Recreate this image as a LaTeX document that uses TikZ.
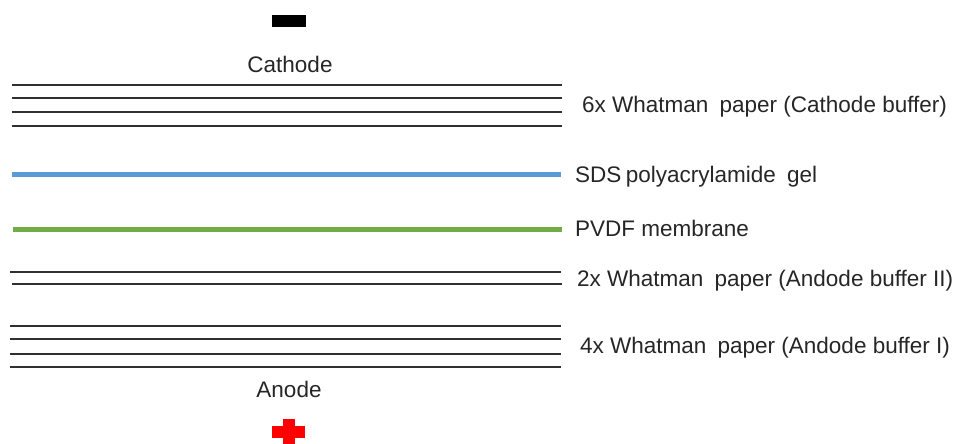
\documentclass[tikz,border=0pt]{standalone}
\usepackage{fontspec}
\setmainfont{Liberation Sans}
\definecolor{gelblue}{HTML}{5B9BD5}
\definecolor{pvdfgreen}{HTML}{70AD47}
\definecolor{txtgray}{HTML}{262626}
\definecolor{linegray}{HTML}{303030}
\newcommand{\wgap}{\hspace{0.22em}}
\begin{document}
\begin{tikzpicture}[x=1pt,y=-1pt,
  lbl/.style={inner sep=0pt, font=\fontsize{22.5}{27}\selectfont, text=txtgray},
  sheet/.style={line width=1.7pt, draw=linegray},
  gel/.style={line width=4.5pt, draw=gelblue},
  membrane/.style={line width=4.5pt, draw=pvdfgreen}]
\useasboundingbox (0,0) rectangle (956,444);
% electrodes
\fill[black] (272,15) rectangle (306,27);
\fill[red] (272,426) rectangle (305,438);
\fill[red] (283,419) rectangle (295,444);
\node[lbl, anchor=base] (cathode) at (290,73) {Cathode};
\node[lbl, anchor=base] (anode) at (289,397) {Anode};
% cathode whatman paper
\foreach \y in {85,98,112.3,125.7} \draw[sheet] (12,\y) -- (562,\y);
% gel and membrane
\draw[gel] (12,174.5) -- (561,174.5);
\draw[membrane] (13,229.5) -- (562,229.5);
% anode buffer II
\draw[sheet] (10,272.3) -- (561,272.3);
\draw[sheet] (12,283.7) -- (562,283.7);
% anode buffer I
\foreach \y in {326,339.3,353.7,367} \draw[sheet] (10,\y) -- (561,\y);
% labels
\node[lbl, anchor=base west] (l6x) at (582,112) {6x Whatman\wgap{} paper (Cathode buffer)};
\node[lbl, anchor=base west] (lsds) at (575,182) {SDS\hspace{-0.08em} polyacrylamide\wgap{} gel};
\node[lbl, anchor=base west] (lpvdf) at (575,236.7) {PVDF membrane};
\node[lbl, anchor=base west] (l2x) at (577,286.7) {2x Whatman\wgap{} paper (Andode buffer II)};
\node[lbl, anchor=base west] (l4x) at (580,353.3) {4x Whatman\wgap{} paper (Andode buffer I)};
\end{tikzpicture}
\end{document}
